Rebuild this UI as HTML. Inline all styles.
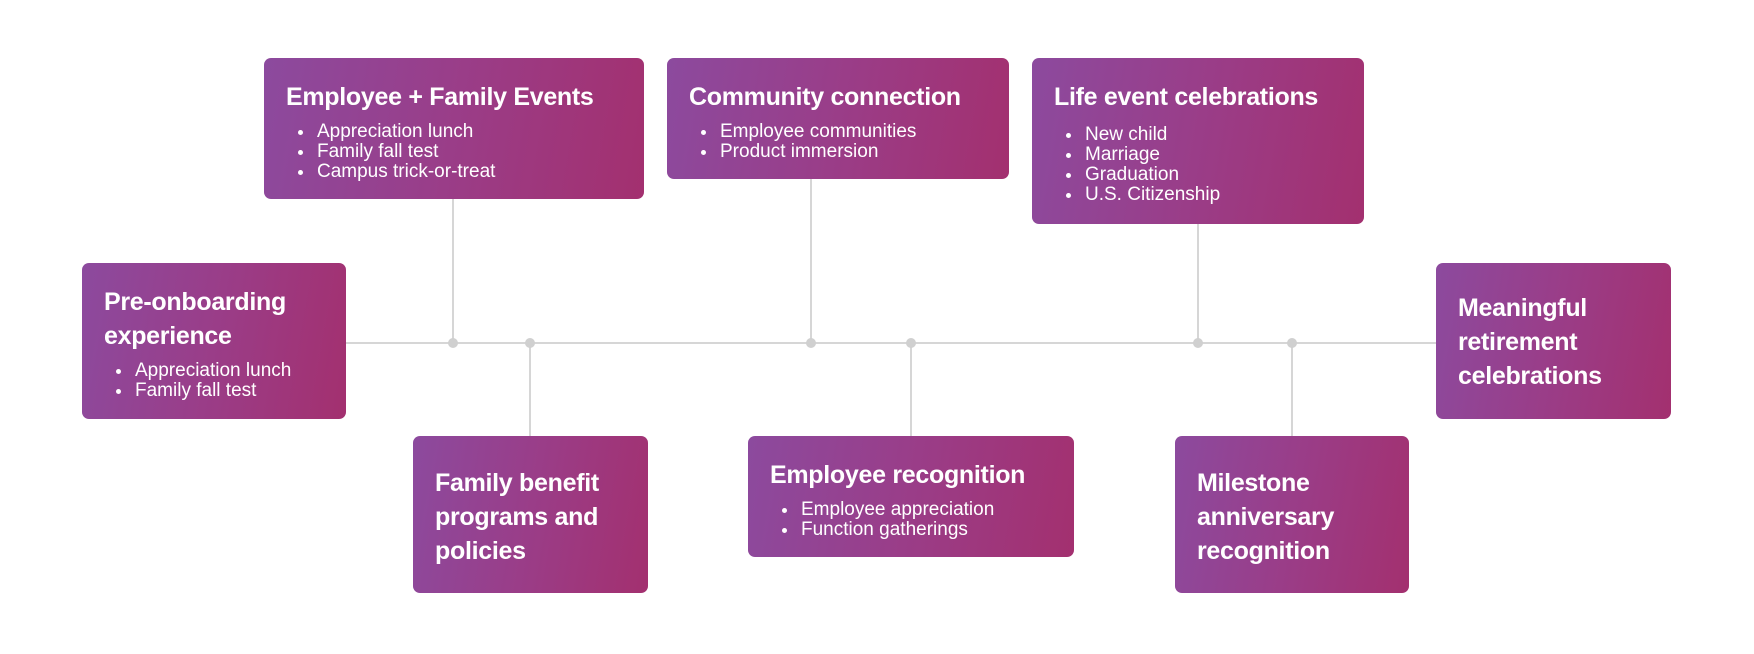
<!DOCTYPE html>
<html><head><meta charset="utf-8"><style>
body{margin:0;width:1754px;height:654px;background:#fff;position:relative;overflow:hidden;font-family:"Liberation Sans",sans-serif;}
.b{position:absolute;box-sizing:border-box;border-radius:7px;background:linear-gradient(100deg,#8c4a9e 0%,#9a3d88 50%,#a3306f 100%);color:#fff;padding:22px 0 0 22px;}
.t{font-size:25px;font-weight:bold;line-height:34px;white-space:nowrap;letter-spacing:-0.3px;}
ul{margin:8px 0 0 0;padding:0 0 0 31px;list-style:none;}
li{font-size:19px;line-height:20px;position:relative;white-space:nowrap;}
li:before{content:"";position:absolute;left:-19px;top:8px;width:5px;height:5px;border-radius:50%;background:#fff;}
.h{position:absolute;height:2px;background:#d6d6d6;}
.v{position:absolute;width:2px;background:#d6d6d6;}
.d{position:absolute;width:10px;height:10px;border-radius:50%;background:#d0d0d0;}
</style></head><body>
<div class="h" style="left:346px;top:342px;width:1090px"></div>
<div class="v" style="left:452px;top:199px;height:144px"></div>
<div class="v" style="left:529px;top:343px;height:93px"></div>
<div class="v" style="left:810px;top:179px;height:164px"></div>
<div class="v" style="left:910px;top:343px;height:93px"></div>
<div class="v" style="left:1197px;top:224px;height:119px"></div>
<div class="v" style="left:1291px;top:343px;height:93px"></div>
<div class="d" style="left:448px;top:338px"></div>
<div class="d" style="left:525px;top:338px"></div>
<div class="d" style="left:806px;top:338px"></div>
<div class="d" style="left:906px;top:338px"></div>
<div class="d" style="left:1193px;top:338px"></div>
<div class="d" style="left:1287px;top:338px"></div>

<div class="b" style="left:264px;top:58px;width:380px;height:141px"><div class="t">Employee + Family Events</div><ul><li>Appreciation lunch</li><li>Family fall test</li><li>Campus trick-or-treat</li></ul></div>
<div class="b" style="left:667px;top:58px;width:342px;height:121px"><div class="t">Community connection</div><ul><li>Employee communities</li><li>Product immersion</li></ul></div>
<div class="b" style="left:1032px;top:58px;width:332px;height:166px"><div class="t">Life event celebrations</div><ul style="margin-top:11px"><li>New child</li><li>Marriage</li><li>Graduation</li><li>U.S. Citizenship</li></ul></div>
<div class="b" style="left:82px;top:263px;width:264px;height:156px"><div class="t">Pre-onboarding<br>experience</div><ul><li>Appreciation lunch</li><li>Family fall test</li></ul></div>
<div class="b" style="left:413px;top:436px;width:235px;height:157px;padding-top:30px"><div class="t">Family benefit<br>programs and<br>policies</div></div>
<div class="b" style="left:748px;top:436px;width:326px;height:121px"><div class="t">Employee recognition</div><ul><li>Employee appreciation</li><li>Function gatherings</li></ul></div>
<div class="b" style="left:1175px;top:436px;width:234px;height:157px;padding-top:30px"><div class="t">Milestone<br>anniversary<br>recognition</div></div>
<div class="b" style="left:1436px;top:263px;width:235px;height:156px;padding-top:28px"><div class="t">Meaningful<br>retirement<br>celebrations</div></div>
</body></html>
